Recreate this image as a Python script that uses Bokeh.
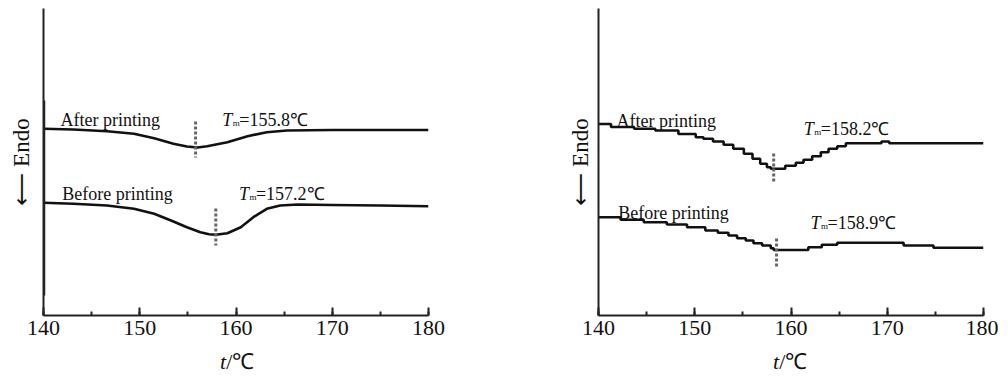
from bokeh.plotting import figure
from bokeh.layouts import row, column
from bokeh.models import Range1d, Label, SingleIntervalTicker, FixedTicker, Div
from bokeh.embed import file_html
from bokeh.resources import INLINE

# ---------------- data (DSC curves, arbitrary signal units, increasing downward) ----------------
# Left panel
left_after_t = [140, 143.1, 146.6, 149.4, 151.5, 153.5, 154.9, 156.0, 157.0, 159.1, 161.2, 163.2, 165.3, 170, 175, 180]
left_after_s = [128.3, 129, 130.7, 133.3, 137.7, 143.3, 146, 147, 145.7, 141.7, 135.7, 131.7, 130, 129.5, 129.5, 129.5]
left_before_t = [140, 143.1, 146.6, 149.4, 151.5, 153.5, 154.9, 156.3, 157.2, 157.9, 159.1, 160.5, 161.8, 163.2, 164.6, 166.4, 170, 175, 180]
left_before_s = [202.3, 203.3, 205, 208.3, 213.3, 221, 226.7, 231.7, 233.8, 234.3, 232.7, 226.7, 216.7, 208.3, 205, 204, 204.5, 205, 205.7]
left_tm_labels = ["155.8", "157.2"]
left_marker_t = [155.8, 157.9]
left_marker_s0 = [121, 208]
left_marker_s1 = [157, 245]

# Right panel (stepped instrument trace)
right_after_t = [140.0, 141.3, 143.7, 145.9, 148.3, 150.1, 150.9, 151.9, 153.0, 154.0, 155.1, 156.0, 156.8, 157.5,
                 157.9, 159.4, 160.5, 161.3, 162.2, 163.1, 163.9, 164.8, 165.7, 169.4, 170.2, 180]
right_after_s = [123.5, 126.5, 128.3, 130, 133.5, 136.7, 138.3, 141, 144.3, 148.3, 153.3, 158.3, 163.3, 166.7,
                 168.3, 165.3, 162.3, 159.3, 155.7, 151.7, 148.3, 145.7, 142.7, 141, 142.7, 142.7]
right_before_t = [140.0, 142.3, 144.7, 147.1, 149.2, 151.1, 152.4, 153.5, 154.4, 155.3, 156.1, 157.0, 157.9, 158.2,
                  161.8, 163.2, 164.8, 171.7, 174.8, 180]
right_before_s = [216.7, 219.3, 221.7, 224, 226.7, 230, 232.3, 235, 237.7, 240, 242.7, 245, 247.7, 249.5,
                  246.7, 244.3, 242.3, 245, 247.3, 247.3]
right_tm_labels = ["158.2", "158.9"]
right_marker_t = [158.2, 158.5]
right_marker_s0 = [153, 238]
right_marker_s1 = [183, 267]

x_ticks_interval = 10
FONT = "Liberation Serif"
INK = "#111111"
AX = "#222222"


def make_panel(width, bl, br, standoff, series, markers, texts):
    p = figure(width=width, height=345, x_range=Range1d(140, 180), y_range=Range1d(315, 8),
               output_backend="svg", toolbar_location=None,
               min_border_left=bl, min_border_right=br, min_border_top=8, min_border_bottom=30)
    p.outline_line_color = None
    p.grid.visible = False
    p.background_fill_color = "white"
    p.border_fill_color = "white"

    ax = p.xaxis[0]
    ax.ticker = SingleIntervalTicker(interval=x_ticks_interval, num_minor_ticks=2)
    ax.axis_line_width = 2
    ax.axis_line_color = AX
    ax.major_tick_in = 8
    ax.major_tick_out = 0
    ax.minor_tick_in = 4
    ax.minor_tick_out = 0
    ax.major_tick_line_width = 2
    ax.minor_tick_line_width = 2
    ax.major_tick_line_color = AX
    ax.minor_tick_line_color = AX
    ax.major_label_text_font = FONT
    ax.major_label_text_font_size = "22px"
    ax.major_label_text_color = INK
    ax.major_label_standoff = 5

    ay = p.yaxis[0]
    ay.ticker = FixedTicker(ticks=[])
    ay.axis_line_width = 2
    ay.axis_line_color = AX
    ay.major_tick_out = 0
    ay.minor_tick_out = 0
    ay.axis_label = "\u27f5 Endo"
    ay.axis_label_text_font = "Liberation Serif, DejaVu Sans"
    ay.axis_label_text_font_style = "normal"
    ay.axis_label_text_font_size = "23px"
    ay.axis_label_text_color = INK
    ay.axis_label_standoff = standoff

    for (t, s, step) in series:
        if step:
            p.step(t, s, mode="after", line_color=INK, line_width=2.6)
        else:
            p.line(t, s, line_color=INK, line_width=2.6, line_join="round")

    mt, m0, m1 = markers
    p.segment(x0=mt, y0=m0, x1=mt, y1=m1, line_color="#666666", line_width=3, line_dash="3 2")

    for (x, y, kind, txt) in texts:
        if kind == "plain":
            p.add_layout(Label(x=x, y=y, text=txt, text_font=FONT, text_font_size="18px",
                               text_color=INK, text_align="left", text_baseline="alphabetic"))
        else:
            p.add_layout(Label(x=x, y=y, text="T", text_font=FONT, text_font_style="italic",
                               text_font_size="18px", text_color=INK, text_align="left",
                               text_baseline="alphabetic"))
            p.add_layout(Label(x=x, y=y, x_offset=10.5, y_offset=-3, text="m", text_font=FONT,
                               text_font_size="9px", text_color=INK, text_align="left",
                               text_baseline="alphabetic"))
            p.add_layout(Label(x=x, y=y, x_offset=17, text="=" + txt + "\u2103", text_font=FONT,
                               text_font_size="18px", text_color=INK, text_align="left",
                               text_baseline="alphabetic"))
    return p


def axis_title(width, pad):
    return Div(text="<i>t</i>/\u2103", width=width, height=30,
               styles={"font-family": "'Liberation Serif', serif", "font-size": "22px", "color": INK,
                       "line-height": "22px", "padding-left": f"{pad}px", "padding-top": "6px",
                       "white-space": "nowrap", "margin": "0px"})


left = make_panel(
    558, 43, 130, 10,
    [(left_after_t, left_after_s, False), (left_before_t, left_before_s, False)],
    (left_marker_t, left_marker_s0, left_marker_s1),
    [(141.77, 119, "plain", "After printing"), (158.57, 119, "tm", left_tm_labels[0]),
     (141.94, 193.3, "plain", "Before printing"), (160.3, 193.3, "tm", left_tm_labels[1])],
)
left.segment(x0=[140], y0=[100], x1=[140], y1=[295], line_color=AX, line_width=3.5)

right = make_panel(
    440, 40, 15, 6,
    [(right_after_t, right_after_s, True), (right_before_t, right_before_s, True)],
    (right_marker_t, right_marker_s0, right_marker_s1),
    [(141.87, 120, "plain", "After printing"), (161.33, 128.3, "tm", right_tm_labels[0]),
     (142.05, 212.7, "plain", "Before printing"), (162.03, 222.7, "tm", right_tm_labels[1])],
)

layout = row(column(left, axis_title(200, 220)), column(right, axis_title(200, 215)))
open("out.html", "w").write(file_html(layout, INLINE))
